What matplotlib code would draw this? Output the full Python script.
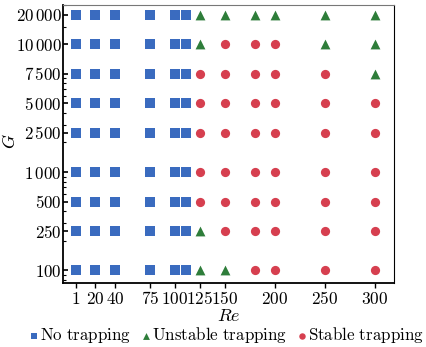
import numpy as np
import matplotlib
matplotlib.use("Agg")
import matplotlib.pyplot as plt
from matplotlib.ticker import NullFormatter

plt.rcParams['font.family'] = 'serif'
plt.rcParams['font.serif'] = ['DejaVu Serif']
plt.rcParams['mathtext.fontset'] = 'cm'

# Reynolds numbers (columns) and G values (rows)
Re = [1, 20, 40, 75, 100, 111, 125, 150, 180, 200, 250, 300]
Re_ticks = [1, 20, 40, 75, 100, 125, 150, 200, 250, 300]
G_labels = ['100', '250', '500', '1\\,000', '2\\,500', '5\\,000', '7\\,500', '10\\,000', '20\\,000']
# the axis is logarithmic, but the top rows are spaced one octave apart
G_plot = [100, 250, 500, 1000, 2500, 5000, 10000, 20000, 40000]

# regime per row (bottom to top): N = no trapping, U = unstable, S = stable
regime = [
    "NNNNNNUUSSSS",  # 100
    "NNNNNNUSSSSS",  # 250
    "NNNNNNSSSSSS",  # 500
    "NNNNNNSSSSSS",  # 1000
    "NNNNNNSSSSSS",  # 2500
    "NNNNNNSSSSSS",  # 5000
    "NNNNNNSSSSSU",  # 7500
    "NNNNNNUSSSUU",  # 10000
    "NNNNNNUUUUUU",  # 20000
]

styles = {
    'N': dict(marker='s', color='#3a6bbf', s=45, label='No trapping'),
    'U': dict(marker='^', color='#2e7d3a', s=50, label='Unstable trapping'),
    'S': dict(marker='o', color='#d63f4f', s=44, label='Stable trapping'),
}

fig = plt.figure(figsize=(4.27, 3.47), dpi=100)
ax = fig.add_axes([0.147, 0.184, 0.776, 0.802])

for key in ['N', 'U', 'S']:
    xs, ys = [], []
    for i, row in enumerate(regime):
        for j, c in enumerate(row):
            if c == key:
                xs.append(Re[j])
                ys.append(G_plot[i])
    st = styles[key]
    ax.scatter(xs, ys, marker=st['marker'], color=st['color'], s=st['s'],
               linewidths=0, label=r'$\mathrm{' + st['label'].replace(' ', r'\ ') + '}$')

ax.set_yscale('log')
ax.set_xlim(-12.3, 319.3)
ax.set_ylim(74, 50200)

ax.set_xticks(Re_ticks)
ax.set_xticklabels(['$%d$' % r for r in Re_ticks], fontsize=12.5)
ax.set_yticks(G_plot)
ax.set_yticklabels(['$' + g + '$' for g in G_labels], fontsize=12.2)
ax.yaxis.set_minor_formatter(NullFormatter())
ax.tick_params(axis='x', which='major', direction='out', length=3.5, width=1, pad=2)
ax.tick_params(axis='y', which='major', direction='in', length=3.5, width=1.2, pad=0.8)
ax.tick_params(axis='y', which='minor', direction='in', length=2.5, width=0.8)

for side in ['left', 'bottom']:
    ax.spines[side].set_linewidth(1.3)
ax.spines['top'].set_color('#777777')

ax.set_xlabel('$Re$', fontsize=13, labelpad=-0.5)
ax.set_ylabel('$G$', fontsize=13)
ax.yaxis.set_label_coords(-0.133, 0.51)

fig.legend(loc='center', bbox_to_anchor=(0.53, 0.034), ncol=3, frameon=False,
           fontsize=12.2, handletextpad=0.05, columnspacing=0.6, markerscale=0.7,
           handlelength=0.6)

fig.savefig('out.png', dpi=100)
